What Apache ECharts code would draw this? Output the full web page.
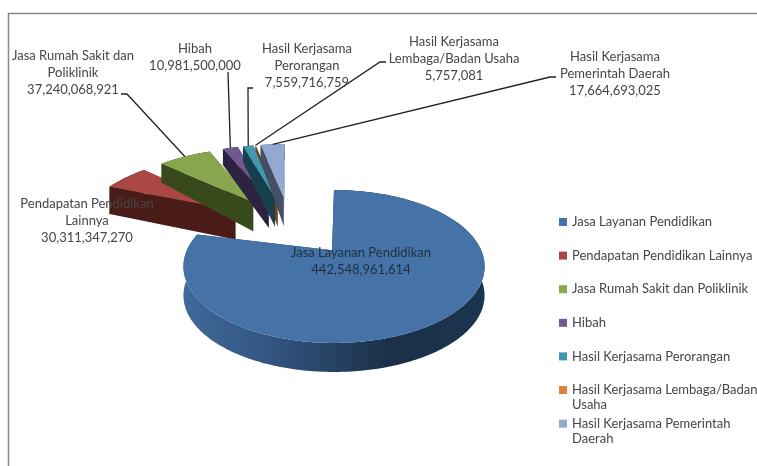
<!DOCTYPE html>
<html><head><meta charset="utf-8">
<style>html,body{margin:0;padding:0;background:#fff}#c{width:757px;height:466px}</style>
<script src="https://cdn.jsdelivr.net/npm/echarts@6/dist/echarts.min.js"></script>
</head><body><div id="c"></div>
<script>
const categories = ['Jasa Layanan Pendidikan','Pendapatan Pendidikan Lainnya','Jasa Rumah Sakit dan Poliklinik','Hibah','Hasil Kerjasama Perorangan','Hasil Kerjasama Lembaga/Badan Usaha','Hasil Kerjasama Pemerintah Daerah'];
const values = [442548961614,30311347270,37240068921,10981500000,7559716759,5757081,17664693025];
const valueLabels = ['442,548,961,614','30,311,347,270','37,240,068,921','10,981,500,000','7,559,716,759','5,757,081','17,664,693,025'];
const topColors = ['#4572A7','#AA4643','#89A54E','#71588F','#4198AF','#DB843D','#93A9CF'];
const wallColors = ['#2f527c','#4a1c18','#384a1c','#2d2340','#16404c','#7a4015','#444f66'];
const labelLines = [['Jasa Layanan Pendidikan'],['Pendapatan Pendidikan','Lainnya'],['Jasa Rumah Sakit dan','Poliklinik'],['Hibah'],['Hasil Kerjasama','Perorangan'],['Hasil Kerjasama','Lembaga/Badan Usaha'],['Hasil Kerjasama','Pemerintah Daerah']];
const labelPos = [[361,253],[87,204],[73,56],[195,48.5],[307,48.5],[454,41.5],[615,56.5]];
const leaderElbows = [null,null,[[121,94],[127,94]],[[228,72]],[[253,88],[248,88]],[[386,62],[380,62]],[[556,77],[550,77]]];

const total = values.reduce((a,b)=>a+b,0);
const EXPLODE=0.5, SMALL=1.18, P=0.2;
const TXT='#454545', FONT='Lato, "Open Sans", sans-serif';
// projection of the pie plane: main slice (centred on its own rim) and exploded slices
function proj(u,v,main){
  if(main){const w=1-0.06*v;return [334+150.3*u/w, 261.9+76.2*v/w];}
  const w=1-P*v;
  return [290+135*u/w, 227+66*v/w];
}
function depth(v,main){if(main)return 29;return v>=-0.6?29:Math.max(16,29-(-0.6-v)*17);}
function down(u,v,main){const p=proj(u,v,main);return [p[0],p[1]+depth(v,main)];}

const spans=[];let acc=0;
values.forEach(v=>{const a=acc/total*Math.PI*2;acc+=v;spans.push([a,acc/total*Math.PI*2]);});

function sliceElements(i){
  const main=i===0;
  const [a0,a1]=spans[i], mid=(a0+a1)/2;
  const ax=main?-0.013:EXPLODE*Math.sin(mid), ay=main?-0.155:-EXPLODE*Math.cos(mid);
  const ox=main?0:ax, oy=main?0:ay;
  const r=main?1:SMALL;
  const steps=Math.max(2,Math.ceil((a1-a0)/0.02));
  const arc=[];
  for(let k=0;k<=steps;k++){const t=a0+(a1-a0)*k/steps;arc.push([ox+r*Math.sin(t),oy-r*Math.cos(t)]);}
  const topPts=[proj(ax,ay,main)].concat(arc.map(q=>proj(q[0],q[1],main)));
  const wallArc=arc.map(q=>proj(q[0],q[1],main)).concat(arc.slice().reverse().map(q=>down(q[0],q[1],main)));
  const first=arc[0], last=arc[arc.length-1];
  const wallFill=main?new echarts.graphic.LinearGradient(0,0,1,0,[{offset:0,color:'#41699a'},{offset:.35,color:'#2f507a'},{offset:.68,color:'#1b3048'},{offset:1,color:'#1c3450'}]):wallColors[i];
  const radial=q=>[proj(ax,ay,main),proj(q[0],q[1],main),down(q[0],q[1],main),down(ax,ay,main)];
  const els=[
    {type:'polygon',shape:{points:radial(last)},style:{fill:wallColors[i]}},
    {type:'polygon',shape:{points:radial(first)},style:{fill:main?'#1b3048':wallColors[i]}},
    {type:'polygon',shape:{points:wallArc},style:{fill:wallFill}},
    {type:'polygon',shape:{points:topPts},style:{fill:topColors[i]}}
  ];
  if(leaderElbows[i]){
    const m=proj(ox+r*Math.sin(mid),oy-r*Math.cos(mid),main);
    els.push({type:'polyline',shape:{points:leaderElbows[i].concat([m])},style:{stroke:'#222',lineWidth:1.3,fill:null},z2:20});
  }
  const lines=labelLines[i].concat([valueLabels[i]]);
  lines.forEach((t,k)=>els.push({type:'text',z2:30,style:{text:t,x:labelPos[i][0],y:labelPos[i][1]+k*17,align:'center',verticalAlign:'middle',fill:main?'#1f2f40':TXT,font:'13px '+FONT}}));
  return els;
}

const series=categories.map((name,i)=>({
  name,type:'custom',coordinateSystem:'none',silent:true,
  itemStyle:{color:topColors[i]},
  data:[[values[i]]],
  renderItem:()=>({type:'group',children:sliceElements(i)})
}));
// the sliver goes first so its neighbour covers its wall; main slice is painted last
const order=[5,1,2,3,4,6,0];
const legendWraps={'Hasil Kerjasama Lembaga/Badan Usaha':'Hasil Kerjasama Lembaga/Badan','Hasil Kerjasama Pemerintah Daerah':'Hasil Kerjasama Pemerintah'};
const chart=echarts.init(document.getElementById('c'),null,{renderer:'canvas'});
chart.setOption({
  animation:false,backgroundColor:'#fff',
  legend:{orient:'vertical',left:554,top:209,itemWidth:8,itemHeight:8,itemGap:17.6,icon:'rect',data:categories,
    formatter:n=>legendWraps[n]||n,
    textStyle:{color:TXT,fontFamily:FONT,fontSize:13,lineHeight:16}},
  graphic:[
    {type:'polyline',shape:{points:[[8.5,466],[8.5,13.5],[757,13.5]]},style:{stroke:'#8a8a8a',lineWidth:1.5,fill:null}},
    {type:'text',left:572,top:398,style:{text:'Usaha',fill:TXT,font:'13px '+FONT}},
    {type:'text',left:572,top:432,style:{text:'Daerah',fill:TXT,font:'13px '+FONT}}
  ],
  series:order.map(i=>series[i])
});
</script></body></html>
